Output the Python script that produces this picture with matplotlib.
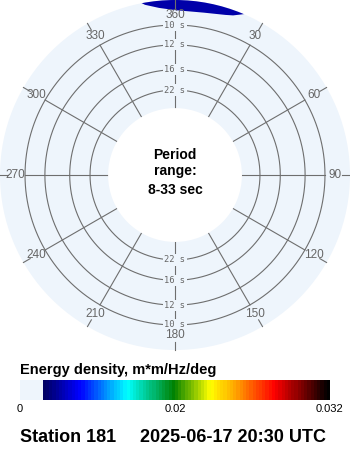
import numpy as np
import matplotlib
matplotlib.use("Agg")
import matplotlib.pyplot as plt
from matplotlib.colors import LinearSegmentedColormap, ListedColormap, FuncNorm
from matplotlib.cm import ScalarMappable

# ---------------- data ----------------
ring_periods = [10, 12, 16, 22]            # s
period_range = (8, 33)                     # s
angle_ticks = [0, 30, 60, 90, 120, 150, 180, 210, 240, 270, 300, 330]
angle_labels = ["360", "30", "60", "90", "120", "150", "180", "210", "240", "270", "300", "330"]
spec_dirs = [-20, -10, 0, 10, 20, 30]                 # deg
spec_freqs = [0.105, 0.110, 0.115, 0.120, 0.125]      # Hz
spec_energy = [
    [0.0000, 0.0000, 0.0010, 0.0010, 0.0000, 0.0000],
    [0.0000, 0.0010, 0.0021, 0.0021, 0.0010, 0.0000],
    [0.0000, 0.0022, 0.0033, 0.0033, 0.0025, 0.0005],
    [0.0005, 0.0028, 0.0045, 0.0045, 0.0031, 0.0015],
    [0.0010, 0.0034, 0.0050, 0.0050, 0.0036, 0.0020],
]
cbar_ticks = [0, 0.02, 0.032]
cbar_ticklabels = ["0", "0.02", "0.032"]
station = "Station 181"
timestamp = "2025-06-17 20:30 UTC"

# ---------------- styles ----------------
BG = "#eef5fc"
GRID = "#6e6e6e"
LABEL = "#666666"

zero_frac = 0.068
base = LinearSegmentedColormap.from_list("cdip", [
    (0.0, "#000064"), (0.124, "#0000ff"), (0.291, "#00ffff"),
    (0.457, "#008000"), (0.585, "#ffff00"), (0.672, "#ffa500"),
    (0.810, "#ff0000"), (1.0, "#000000")])
N = 96
n_zero = int(round(N * zero_frac))
cols = [BG] * n_zero + [base(x) for x in np.linspace(0, 1, N - n_zero)]
cmap = ListedColormap(cols)

def fwd(x):
    return np.interp(x, [0, 0.02, 0.032], [0, 0.5, 1])

def inv(y):
    return np.interp(y, [0, 0.5, 1], [0, 0.02, 0.032])

norm = FuncNorm((fwd, inv), vmin=0, vmax=0.032)

plt.rcParams['font.family'] = ['Liberation Sans', 'DejaVu Sans']

fig = plt.figure(figsize=(3.5, 4.5), dpi=100)
fig.patch.set_facecolor("white")

ax = fig.add_axes([0, 1 - 350 / 450, 1, 350 / 450], projection="polar")
ax.set_theta_zero_location("N")
ax.set_theta_direction(-1)
f_in = 1.0 / period_range[1]
f_out = 0.1210
ax.set_ylim(f_in, f_out)
ax.set_rorigin(-0.02585)
ax.set_facecolor(BG)
ax.patch.set_linewidth(0)
ax.patch.set_edgecolor("none")
ax.grid(False)
ax.set_xticks([])
ax.set_yticks([])
for sp in ax.spines.values():
    sp.set_visible(False)
    sp.set_color("none")
    sp.set_linewidth(0)

# energy spectrum
th = np.deg2rad(np.array(spec_dirs))
E = np.array(spec_energy)
levels = [0.0027, 0.0075, 0.0120, 0.0170, 0.0220, 0.0270, 0.0320]
ax.contourf(th, np.array(spec_freqs), E, levels=levels, cmap=cmap, norm=norm,
            zorder=1, antialiased=True)

# rings
tt = np.linspace(0, 2 * np.pi, 721)
for p in ring_periods:
    ax.plot(tt, np.full_like(tt, 1.0 / p), color=GRID, lw=0.8, zorder=2)
# spokes and outer ticks
for a in angle_ticks:
    t = np.deg2rad(a)
    ax.plot([t, t], [f_in, 1.0 / ring_periods[0]], color=GRID, lw=0.8, zorder=2)
    ax.plot([t, t], [0.1145, f_out], color=GRID, lw=0.8, zorder=2, clip_on=False)
# angle labels
for a, lab in zip(angle_ticks, angle_labels):
    ax.text(np.deg2rad(a), 0.1085, lab, ha="center", va="center", fontsize=8.5,
            color=LABEL, zorder=4)
# ring labels
for p in ring_periods:
    for a in (0, 180):
        ax.text(np.deg2rad(a), 1.0 / p, f"{p} s", ha="center", va="center",
                fontsize=6.3, color=LABEL, family="DejaVu Sans Mono", zorder=3,
                bbox=dict(boxstyle="square,pad=0.12", fc=BG, ec="none"))

# center text
fig.text(0.5, 1 - 155 / 450, "Period", ha="center", va="center", fontsize=10, fontweight="bold")
fig.text(0.5, 1 - 171 / 450, "range:", ha="center", va="center", fontsize=10, fontweight="bold")
fig.text(0.5, 1 - 190 / 450, f"{period_range[0]}-{period_range[1]} sec", ha="center",
         va="center", fontsize=10, fontweight="bold")

# colorbar
cax = fig.add_axes([20 / 350, 50 / 450, 310 / 350, 20 / 450])
sm = ScalarMappable(norm=norm, cmap=cmap)
cb = fig.colorbar(sm, cax=cax, orientation="horizontal")
cb.outline.set_visible(False)
cb.set_ticks(cbar_ticks)
cb.set_ticklabels(cbar_ticklabels)
cax.tick_params(length=0, labelsize=8, pad=3)
fig.text(20 / 350, 1 - 370 / 450, "Energy density, m*m/Hz/deg", ha="left", va="center",
         fontsize=10.5, fontweight="bold")

# footer
fig.text(20 / 350, 1 - 438 / 450, station, ha="left", va="center", fontsize=13, fontweight="bold")
fig.text(140 / 350, 1 - 438 / 450, timestamp, ha="left", va="center", fontsize=13, fontweight="bold")

fig.savefig("out.png", dpi=100, facecolor="white")
